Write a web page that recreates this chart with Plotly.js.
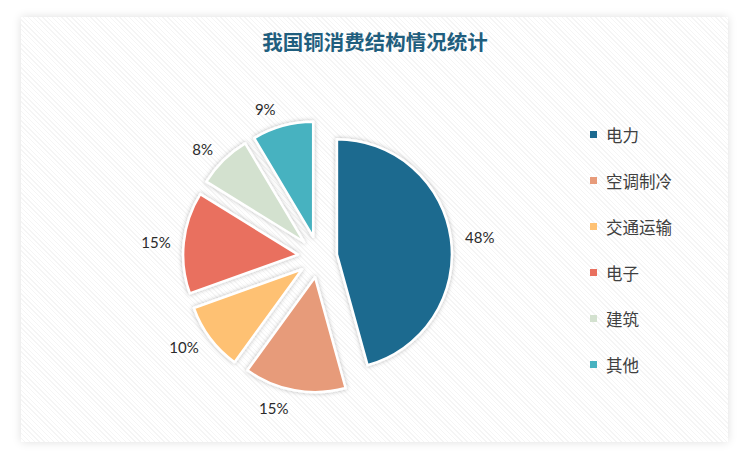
<!DOCTYPE html>
<html>
<head>
<meta charset="utf-8">
<script src="https://cdn.plot.ly/plotly-3.0.1.min.js"></script>
<style>
  html, body { margin: 0; padding: 0; background: #ffffff; width: 750px; height: 460px; overflow: hidden; }
  #panel {
    position: absolute; left: 21px; top: 17px; width: 707px; height: 425px;
    background: repeating-linear-gradient(45deg, #ffffff 0px, #ffffff 2.4px, #f5f5f5 2.4px, #f5f5f5 3.4px);
    box-shadow: 0 0 9px rgba(0,0,0,0.13);
  }
  #chart { position: absolute; left: 0; top: 0; width: 750px; height: 460px; }
  .pielayer .trace:first-child path.surface { filter: url(#sliceShadow); }
</style>
</head>
<body>
<svg width="0" height="0" style="position:absolute">
  <defs>
    <filter id="sliceShadow" x="-20%" y="-20%" width="140%" height="140%">
      <feDropShadow dx="0" dy="0" stdDeviation="2.2" flood-color="#000000" flood-opacity="0.28"/>
    </filter>
  </defs>
</svg>
<div id="panel"></div>
<div id="chart"></div>
<script>
const categories = ['电力', '空调制冷', '交通运输', '电子', '建筑', '其他'];
const shares = [48, 15, 10, 15, 8, 9];
const colors = ['#1c6a8f', '#e79b7a', '#fec173', '#e9705f', '#d3e1cf', '#47b2c0'];
const pulls = [0.16, 0.18, 0.18, 0.18, 0.18, 0.18];
const labelPulls = [0.245, 0.255, 0.255, 0.255, 0.255, 0.26];
const chartTitle = '我国铜消费结构情况统计';

const W = 750, H = 460;
const cx = 318.7, cy = 256.8, R = 115;
const legendX = 604, legendY0 = 134.5, legendStep = 46;

function domainFor(maxPull) {
  const half = R * (1 + maxPull);
  return { x: [(cx - half) / W, (cx + half) / W], y: [(H - cy - half) / H, (H - cy + half) / H] };
}

const annotations = [];
const shapes = [];
categories.forEach((c, i) => {
  const yp = legendY0 + i * legendStep;
  annotations.push({
    xref: 'paper', yref: 'paper', x: legendX / W, y: 1 - yp / H,
    xanchor: 'left', yanchor: 'middle', showarrow: false,
    text: c, font: { family: 'Noto Sans CJK SC', size: 16.5, color: '#404040' }
  });
  shapes.push({
    type: 'rect', xref: 'paper', yref: 'paper',
    x0: 590 / W, x1: 597 / W, y0: 1 - (yp + 3.5) / H, y1: 1 - (yp - 3.5) / H,
    fillcolor: colors[i], line: { width: 0 }
  });
});

const pieTrace = {
  type: 'pie',
  labels: categories,
  values: shares,
  sort: false,
  direction: 'clockwise',
  rotation: 0,
  pull: pulls,
  marker: { colors: colors, line: { color: '#ffffff', width: 2.5 } },
  textinfo: 'none',
  hoverinfo: 'label+value',
  showlegend: false,
  domain: domainFor(Math.max(...pulls))
};

const labelTrace = {
  type: 'pie',
  labels: categories,
  values: shares,
  sort: false,
  direction: 'clockwise',
  rotation: 0,
  pull: labelPulls,
  marker: { colors: categories.map(() => 'rgba(0,0,0,0)'), line: { width: 0 } },
  textposition: 'outside',
  texttemplate: '%{value}%',
  outsidetextfont: { family: 'Lato', size: 15, color: '#2b2b2b' },
  hoverinfo: 'skip',
  showlegend: false,
  domain: domainFor(Math.max(...labelPulls))
};

const layout = {
  width: W, height: H,
  margin: { l: 0, r: 0, t: 0, b: 0 },
  paper_bgcolor: 'rgba(0,0,0,0)',
  plot_bgcolor: 'rgba(0,0,0,0)',
  showlegend: false,
  title: {
    text: '<b>' + chartTitle + '</b>',
    x: 0.5, xanchor: 'center',
    y: 1 - 43 / H, yanchor: 'middle',
    font: { family: 'Noto Sans CJK SC', size: 20.5, color: '#1f5e7e' }
  },
  annotations: annotations,
  shapes: shapes
};

Plotly.newPlot('chart', [pieTrace, labelTrace], layout, { displayModeBar: false, staticPlot: true });
</script>
</body>
</html>
